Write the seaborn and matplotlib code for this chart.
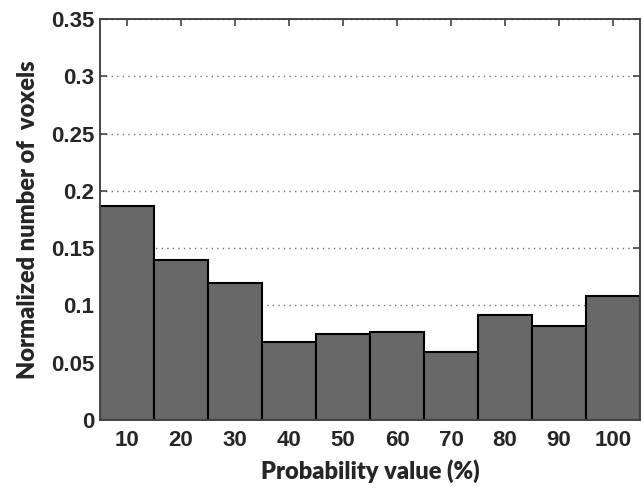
import matplotlib
matplotlib.use("Agg")
import matplotlib.pyplot as plt
import seaborn as sns
import pandas as pd

# Histogram of voxel probabilities, normalized counts per 10% bin
categories = ["10", "20", "30", "40", "50", "60", "70", "80", "90", "100"]
values = [0.187, 0.140, 0.120, 0.068, 0.075, 0.077, 0.059, 0.092, 0.082, 0.108]
y_ticks = [0, 0.05, 0.1, 0.15, 0.2, 0.25, 0.3, 0.35]
y_tick_labels = ["0", "0.05", "0.1", "0.15", "0.2", "0.25", "0.3", "0.35"]

sns.set_theme(style="white")
plt.rcParams["font.family"] = ["Liberation Sans", "DejaVu Sans"]

df = pd.DataFrame({"bin": categories, "value": values})

fig = plt.figure(figsize=(6.44, 4.93), dpi=100)
ax = fig.add_axes([0.1553, 0.148, 0.8385, 0.8135])

sns.barplot(data=df, x="bin", y="value", order=categories, color="#686868",
            saturation=1, width=1.0, edgecolor="black", linewidth=1.5, ax=ax)

ax.set_xlim(-0.5, len(categories) - 0.5)
ax.set_ylim(0, 0.35)
ax.set_yticks(y_ticks)
ax.set_yticklabels(y_tick_labels)
ax.set_xticks(range(len(categories)))
ax.set_xticklabels(categories)

ax.set_axisbelow(True)
ax.yaxis.grid(True, linestyle=(0, (1, 3)), color="#777777", linewidth=1.0)
ax.xaxis.grid(False)

for side in ["left", "bottom", "top", "right"]:
    ax.spines[side].set_visible(True)
    ax.spines[side].set_color("#444444")
    ax.spines[side].set_linewidth(1.4)

ax.tick_params(axis="both", which="major", direction="in", length=5, width=1.2,
               color="#444444", top=True, right=True, bottom=True, left=True,
               labelsize=16)
ax.tick_params(axis="y", pad=4)
ax.tick_params(axis="x", pad=7)
for lbl in ax.get_xticklabels() + ax.get_yticklabels():
    lbl.set_fontweight("bold")

ax.set_xlabel("Probability value (%)", family=["Lato", "DejaVu Sans"],
              fontweight="heavy", fontsize=17, labelpad=6)
ax.set_ylabel("Normalized number of  voxels", family=["Lato", "DejaVu Sans"],
              fontweight="heavy", fontsize=17, labelpad=9)

fig.savefig("out.png", dpi=100)
